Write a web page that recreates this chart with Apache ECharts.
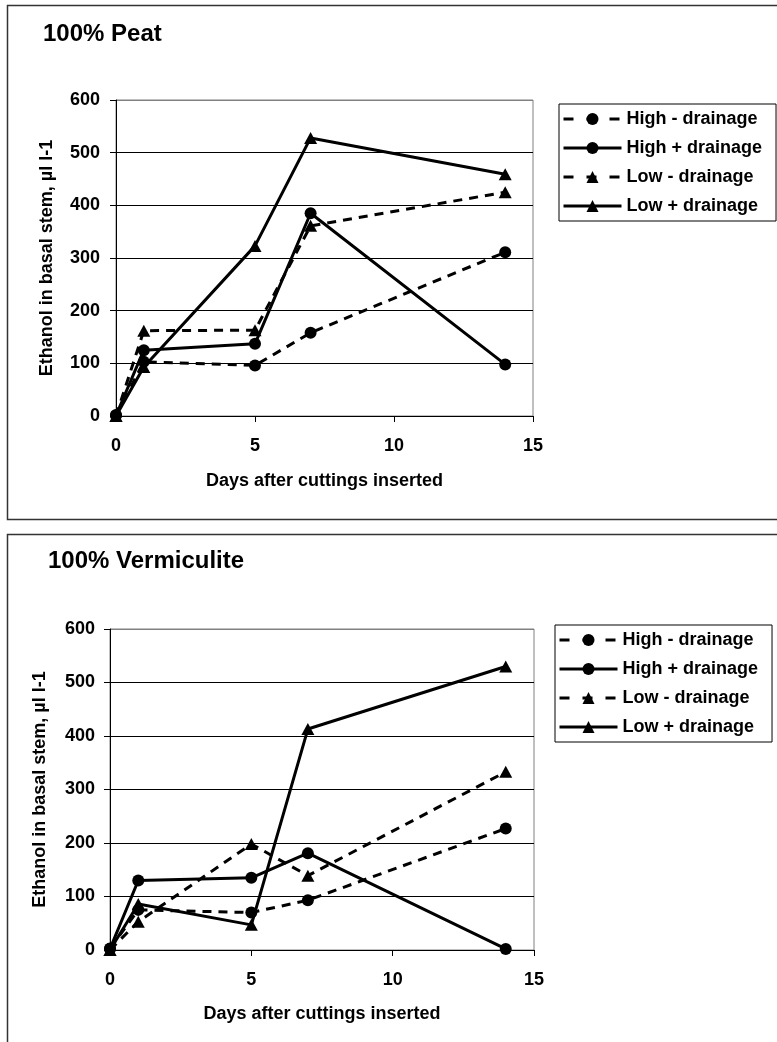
<!DOCTYPE html>
<html>
<head>
<meta charset="utf-8">
<title>Ethanol in basal stem</title>
<script src="https://cdn.jsdelivr.net/npm/echarts@6/dist/echarts.min.js"></script>
<style>
  html, body { margin: 0; padding: 0; background: #fff; }
  #chart { width: 777px; height: 1042px; }
</style>
</head>
<body>
<div id="chart"></div>
<script>
// Sampling days after the cuttings went in
const days = [0, 1, 5, 7, 14];

const seriesNames = ['High - drainage', 'High + drainage', 'Low - drainage', 'Low + drainage'];

// 100% Peat: ethanol in basal stem (µl l-1)
const peatHighNoDrain = [2, 103, 96, 158, 311];
const peatHighDrain   = [1, 125, 137, 385, 98];
const peatLowNoDrain  = [0, 162, 163, 361, 425];
const peatLowDrain    = [0, 93, 323, 528, 459];

// 100% Vermiculite: ethanol in basal stem (µl l-1)
const vermHighNoDrain = [3, 75, 70, 93, 227];
const vermHighDrain   = [2, 130, 135, 181, 2];
const vermLowNoDrain  = [0, 53, 198, 139, 333];
const vermLowDrain    = [0, 86, 47, 413, 530];

const xTicks = { min: 0, max: 15, interval: 5 };
const yTicks = { min: 0, max: 600, interval: 100 };

const FONT = "'Liberation Sans', Arial, Helvetica, sans-serif";
const DASH = [9, 7];
const LEGEND_DASH = [10, 13];

const chart = echarts.init(document.getElementById('chart'), null, { renderer: 'canvas' });

function pairs(vals) {
  return days.map((d, i) => [d, vals[i]]);
}

function makeSeries(gridIdx, sets) {
  const styles = [
    { symbol: 'circle', dashed: true },
    { symbol: 'circle', dashed: false },
    { symbol: 'triangle', dashed: true },
    { symbol: 'triangle', dashed: false }
  ];
  return sets.map((vals, i) => ({
    name: seriesNames[i],
    type: 'line',
    xAxisIndex: gridIdx,
    yAxisIndex: gridIdx,
    data: pairs(vals),
    symbol: styles[i].symbol,
    symbolSize: styles[i].symbol === 'circle' ? 12 : [13, 12],
    showSymbol: true,
    clip: false,
    animation: false,
    itemStyle: { color: '#000' },
    lineStyle: { color: '#000', width: 3, type: styles[i].dashed ? DASH : 'solid', cap: 'butt' },
    z: 3 + i
  }));
}

function makeXAxis(gridIdx, labelMargin, nameGap) {
  return {
    gridIndex: gridIdx,
    type: 'value',
    min: xTicks.min, max: xTicks.max, interval: xTicks.interval,
    name: 'Days after cuttings inserted',
    nameLocation: 'middle',
    nameGap: nameGap,
    nameTextStyle: { fontFamily: FONT, fontWeight: 'bold', fontSize: 18, color: '#000' },
    axisLine: { show: true, onZero: false, lineStyle: { color: '#000', width: 1 } },
    axisTick: { show: true, inside: false, length: 6, lineStyle: { color: '#000' } },
    axisLabel: { fontFamily: FONT, fontWeight: 'bold', fontSize: 18, color: '#000', margin: labelMargin },
    splitLine: { show: false }
  };
}

function makeYAxis(gridIdx, labelMargin, nameGap) {
  return {
    gridIndex: gridIdx,
    type: 'value',
    min: yTicks.min, max: yTicks.max, interval: yTicks.interval,
    name: 'Ethanol in basal stem, µl l-1',
    nameLocation: 'middle',
    nameGap: nameGap,
    nameRotate: 90,
    nameTextStyle: { fontFamily: FONT, fontWeight: 'bold', fontSize: 18, color: '#000' },
    axisLine: { show: true, onZero: false, lineStyle: { color: '#000', width: 1 } },
    axisTick: { show: true, inside: false, length: 6, lineStyle: { color: '#000' } },
    axisLabel: { fontFamily: FONT, fontWeight: 'bold', fontSize: 18, color: '#000', margin: labelMargin },
    splitLine: {
      show: true,
      lineStyle: { color: ['#000', '#000', '#000', '#000', '#000', '#000', '#808080'], width: 1 }
    }
  };
}

function makeLegend(left, top) {
  return {
    orient: 'vertical',
    left: left,
    top: top,
    itemWidth: 58,
    itemHeight: 15,
    itemGap: 9,
    padding: [5, 14, 5, 3],
    borderColor: '#000',
    borderWidth: 1,
    backgroundColor: '#fff',
    selectedMode: false,
    textStyle: { fontFamily: FONT, fontWeight: 'bold', fontSize: 18, color: '#000', lineHeight: 20 },
    data: seriesNames.map((n, i) => ({
      name: n,
      lineStyle: { width: 3, type: (i % 2 === 0) ? LEGEND_DASH : 'solid', color: '#000' },
      itemStyle: { color: '#000', borderWidth: 0 }
    }))
  };
}

const option = {
  backgroundColor: '#fff',
  animation: false,
  title: [
    { text: '100% Peat', left: 43, top: 22, padding: 0,
      textStyle: { fontFamily: FONT, fontWeight: 'bold', fontSize: 24, color: '#000' } },
    { text: '100% Vermiculite', left: 48, top: 549, padding: 0,
      textStyle: { fontFamily: FONT, fontWeight: 'bold', fontSize: 24, color: '#000' } }
  ],
  grid: [
    { left: 116, top: 100, width: 417, height: 316, show: true, borderColor: '#808080', borderWidth: 1, backgroundColor: 'transparent' },
    { left: 110, top: 629, width: 424, height: 321, show: true, borderColor: '#808080', borderWidth: 1, backgroundColor: 'transparent' }
  ],
  xAxis: [makeXAxis(0, 21, 56), makeXAxis(1, 21, 55)],
  yAxis: [makeYAxis(0, 16, 60), makeYAxis(1, 15, 61)],
  legend: [makeLegend(559, 104), makeLegend(555, 625)],
  graphic: [
    { type: 'rect', silent: true, z: -1,
      shape: { x: 7.5, y: 5.5, width: 800, height: 514 },
      style: { fill: 'none', stroke: '#333', lineWidth: 1.5 } },
    { type: 'rect', silent: true, z: -1,
      shape: { x: 7.5, y: 534.5, width: 800, height: 600 },
      style: { fill: 'none', stroke: '#333', lineWidth: 1.5 } }
  ],
  series: [
    ...makeSeries(0, [peatHighNoDrain, peatHighDrain, peatLowNoDrain, peatLowDrain]),
    ...makeSeries(1, [vermHighNoDrain, vermHighDrain, vermLowNoDrain, vermLowDrain])
  ]
};

chart.setOption(option);
</script>
</body>
</html>
